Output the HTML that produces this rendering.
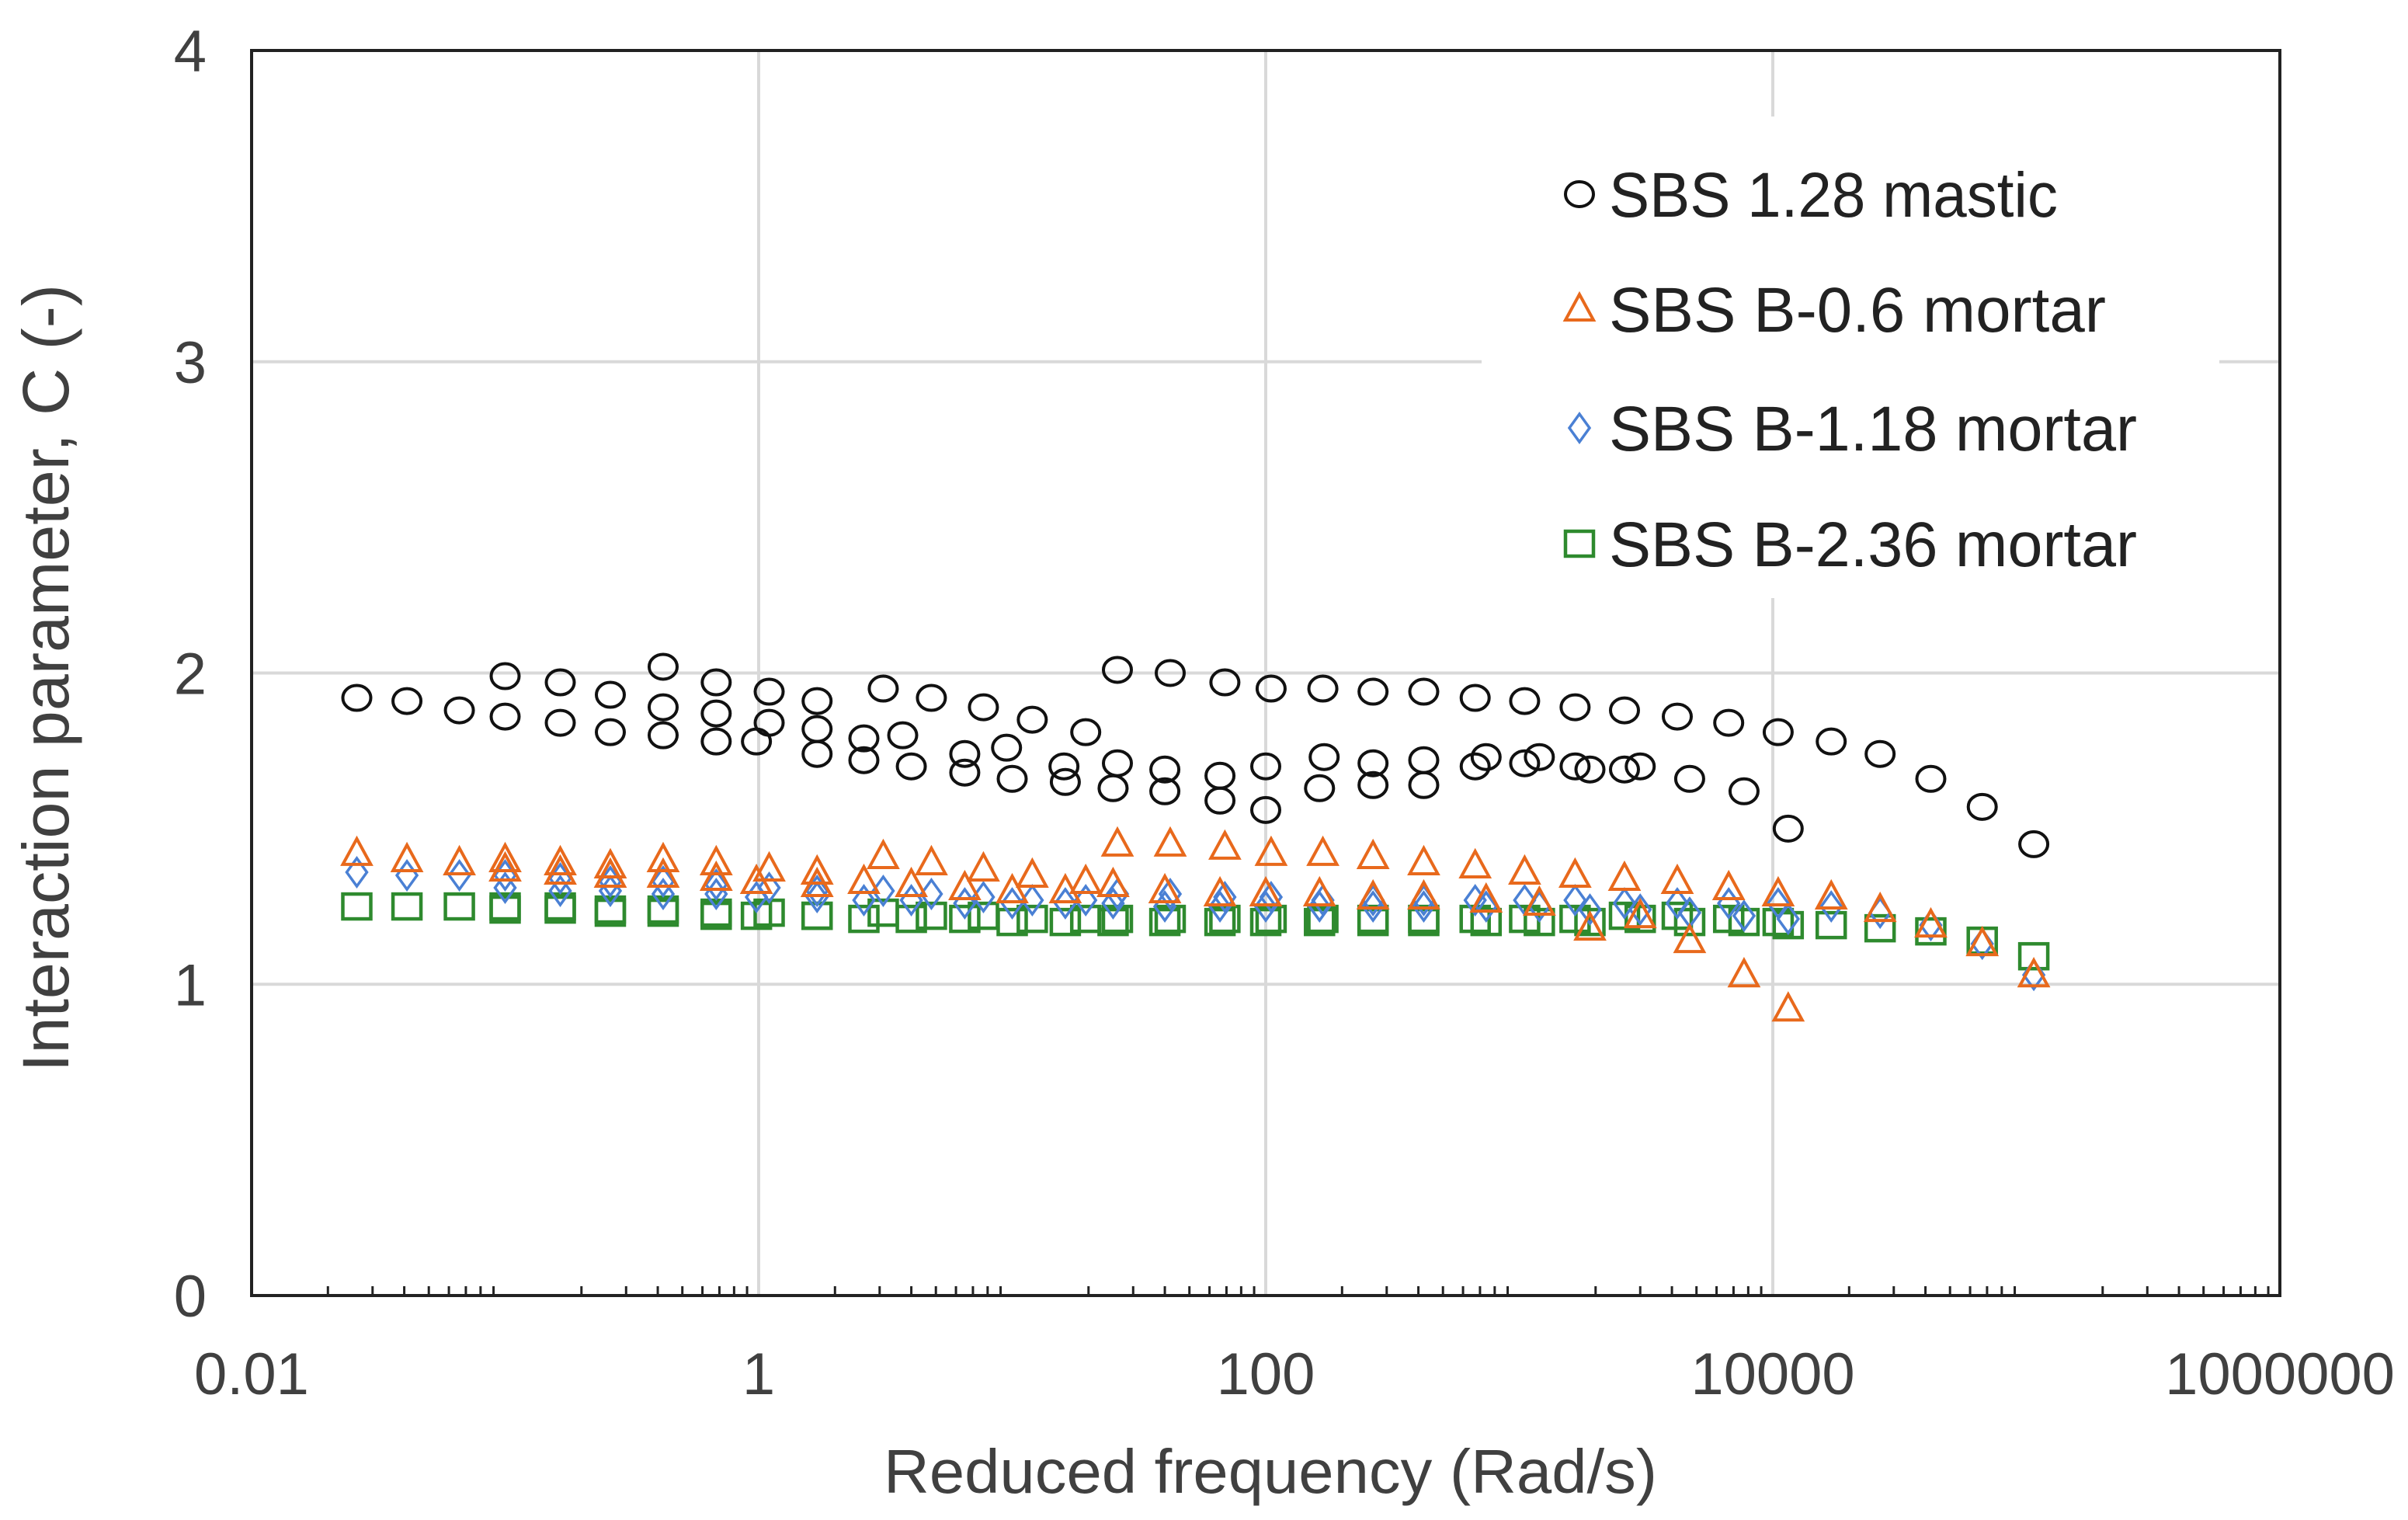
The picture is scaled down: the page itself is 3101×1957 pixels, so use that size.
<!DOCTYPE html>
<html><head><meta charset="utf-8"><style>
html,body{margin:0;padding:0;background:#fff;}
svg{display:block;font-family:"Liberation Sans",sans-serif;}
</style></head><body>
<svg id="chart" width="3101" height="1957" viewBox="0 0 3101 1957" xmlns="http://www.w3.org/2000/svg">
<rect x="0" y="0" width="3101" height="1957" fill="#fff"/>
<g id="grid"></g>
<g id="ticks"></g>
<g id="marks"></g>
<rect x="324" y="65" width="2612" height="1603" fill="none" stroke="#222" stroke-width="4"/>
<g id="legend"></g>
<text x="1636" y="1922" font-size="80" fill="#404040" text-anchor="middle" textLength="996" lengthAdjust="spacingAndGlyphs">Reduced frequency (Rad/s)</text>
<text transform="translate(88,873) rotate(-90)" font-size="84" fill="#404040" text-anchor="middle" textLength="1014" lengthAdjust="spacingAndGlyphs">Interaction parameter, C (-)</text>
</svg>
<script>
const xTicks = [0.01, 1, 100, 10000, 1000000];
const xTickLabels = ["0.01", "1", "100", "10000", "1000000"];
const yTicks = [0, 1, 2, 3, 4];
const yTickLabels = ["0", "1", "2", "3", "4"];

const freqA = [0.026,0.041,0.066,0.1,0.165,0.26,0.42,0.68,1.1,1.7,3.1,4.8,7.7,12,19.5,26,42,69,105,168,265,420,670,1050,1660,2600,4200,6700,10500,17000,26500,42000,67000,107000];
const freqB = [0.1,0.165,0.26,0.42,0.68,0.98,1.7,2.6,4.0,6.5,10,16.2,25,40,66,100,163,265,420,740,1200,1900,3000,4700,7700,11500];
const freqC = [0.42,0.68,1.1,1.7,2.6,3.7,6.5,9.5,16,26,40,66,100,170,265,420,670,1050,1660,2600];

const masticA = [1.92,1.91,1.88,1.99,1.97,1.93,2.02,1.97,1.94,1.91,1.95,1.92,1.89,1.85,1.81,2.01,2.0,1.97,1.95,1.95,1.94,1.94,1.92,1.91,1.89,1.88,1.86,1.84,1.81,1.78,1.74,1.66,1.57,1.45];
const masticB = [1.86,1.84,1.81,1.80,1.78,1.78,1.74,1.72,1.70,1.68,1.66,1.65,1.63,1.62,1.59,1.56,1.63,1.64,1.64,1.73,1.73,1.69,1.70,1.66,1.62,1.50];
const masticC = [1.89,1.87,1.84,1.82,1.79,1.80,1.74,1.76,1.70,1.71,1.69,1.67,1.70,1.73,1.71,1.72,1.70,1.71,1.70,1.69];

const mortar06A = [1.42,1.40,1.39,1.40,1.39,1.38,1.40,1.39,1.37,1.36,1.41,1.39,1.37,1.35,1.33,1.45,1.45,1.44,1.42,1.42,1.41,1.39,1.38,1.36,1.35,1.34,1.33,1.31,1.29,1.28,1.24,1.19,1.13,1.03];
const mortar06B = [1.37,1.36,1.35,1.35,1.34,1.33,1.32,1.33,1.32,1.31,1.30,1.30,1.32,1.30,1.29,1.29,1.29,1.28,1.28,1.27,1.26,1.18,1.22,1.14,1.03,0.92];

const mortar118A = [1.36,1.35,1.35,1.35,1.34,1.33,1.33,1.32,1.31,1.30,1.30,1.29,1.28,1.27,1.27,1.29,1.29,1.28,1.28,1.27,1.27,1.27,1.27,1.27,1.27,1.26,1.26,1.26,1.26,1.25,1.23,1.19,1.13,1.03];
const mortar118B = [1.31,1.30,1.30,1.29,1.29,1.28,1.28,1.27,1.27,1.26,1.26,1.26,1.26,1.25,1.25,1.25,1.25,1.25,1.25,1.25,1.25,1.24,1.24,1.23,1.22,1.21];

const mortar236A = [1.25,1.25,1.25,1.25,1.25,1.24,1.24,1.23,1.23,1.22,1.23,1.22,1.22,1.21,1.21,1.21,1.21,1.21,1.21,1.21,1.21,1.21,1.21,1.21,1.21,1.22,1.22,1.21,1.20,1.19,1.18,1.17,1.14,1.09];
const mortar236B = [1.24,1.24,1.23,1.23,1.22,1.22,1.22,1.21,1.21,1.21,1.20,1.20,1.20,1.20,1.20,1.20,1.20,1.20,1.20,1.20,1.20,1.20,1.21,1.20,1.20,1.19];

const NS = "http://www.w3.org/2000/svg";
const L = 324, R = 2936, T = 65, B = 1668;
function xs(f){ return L + (Math.log10(f) + 2) / 8 * (R - L); }
function ys(v){ return B - v / 4 * (B - T); }
function mk(tag, attrs, parent){ const e = document.createElementNS(NS, tag); for (const k in attrs) e.setAttribute(k, attrs[k]); parent.appendChild(e); return e; }

const grid = document.getElementById('grid');
const ticks = document.getElementById('ticks');
yTicks.forEach((v, i) => {
  if (v > 0 && v < 4) {
    const g = mk('line', {x1: L, x2: R, y1: ys(v), y2: ys(v), stroke: '#d9d9d9', 'stroke-width': 4}, grid);
    
    
  }
  const t = mk('text', {x: 266, y: ys(v) + 27, 'font-size': 76, fill: '#404040', 'text-anchor': 'end'}, ticks);
  t.textContent = yTickLabels[i];
  
  
});
xTicks.forEach((f, i) => {
  if (i > 0 && i < xTicks.length - 1) {
    const g = mk('line', {x1: xs(f), x2: xs(f), y1: T, y2: B, stroke: '#d9d9d9', 'stroke-width': 4}, grid);
    
    
  }
  const t = mk('text', {x: xs(f), y: 1795, 'font-size': 76, fill: '#404040', 'text-anchor': 'middle'}, ticks);
  t.textContent = xTickLabels[i];
  
  
});
for (let d = -2; d < 6; d++) {
  for (let m = 2; m <= 9; m++) {
    const x = xs(m * Math.pow(10, d));
    const tk = mk('line', {x1: x, x2: x, y1: B, y2: B - 12, stroke: '#222', 'stroke-width': 3}, ticks);
    
    
  }
}

const marks = document.getElementById('marks');
const C_BLACK = '#111', C_OR = '#e8691c', C_BL = '#4a80d4', C_GR = '#2e8a2e';
function marker(type, cx, cy, parent){
  let e;
  if (type === 'circle') e = mk('ellipse', {cx: cx, cy: cy, rx: 18, ry: 16, fill: 'none', stroke: C_BLACK, 'stroke-width': 4}, parent);
  else if (type === 'tri') e = mk('polygon', {points: `${cx},${cy-19} ${cx-18},${cy+14} ${cx+18},${cy+14}`, fill: 'none', stroke: C_OR, 'stroke-width': 4}, parent);
  else if (type === 'dia') e = mk('polygon', {points: `${cx},${cy-18} ${cx-13},${cy} ${cx},${cy+18} ${cx+13},${cy}`, fill: 'none', stroke: C_BL, 'stroke-width': 3.5}, parent);
  else e = mk('rect', {x: cx-18, y: cy-16, width: 36, height: 32, fill: 'none', stroke: C_GR, 'stroke-width': 4.5}, parent);
  return e;
}
function series(type, fr, vals, name){
  fr.forEach((f, i) => {
    const e = marker(type, xs(f), ys(vals[i]), marks);
    
    
  });
}
series('square', freqA, mortar236A, 'point-sbs-b-2-36-mortar');
series('square', freqB, mortar236B, 'point-sbs-b-2-36-mortar');
series('dia', freqA, mortar118A, 'point-sbs-b-1-18-mortar');
series('dia', freqB, mortar118B, 'point-sbs-b-1-18-mortar');
series('tri', freqA, mortar06A, 'point-sbs-b-0-6-mortar');
series('tri', freqB, mortar06B, 'point-sbs-b-0-6-mortar');
series('circle', freqA, masticA, 'point-sbs-1-28-mastic');
series('circle', freqB, masticB, 'point-sbs-1-28-mastic');
series('circle', freqC, masticC, 'point-sbs-1-28-mastic');

const legend = document.getElementById('legend');
const bg = mk('rect', {x: 1908, y: 150, width: 950, height: 620, fill: '#fff'}, legend);


const legNames = ["SBS 1.28 mastic", "SBS B-0.6 mortar", "SBS B-1.18 mortar", "SBS B-2.36 mortar"];
const legLen = [578, 640, 680, 680];
const legTypes = ['circle', 'tri', 'dia', 'square'];
const legY = [250, 398, 551, 700];
legNames.forEach((n, i) => {
  const m = marker(legTypes[i], 2034, legY[i], legend);
  
  
  const t = mk('text', {x: 2072, y: legY[i] + 29, 'font-size': 82, fill: '#222', textLength: legLen[i], lengthAdjust: 'spacingAndGlyphs'}, legend);
  t.textContent = n;
  
  
});
</script>
</body></html>
